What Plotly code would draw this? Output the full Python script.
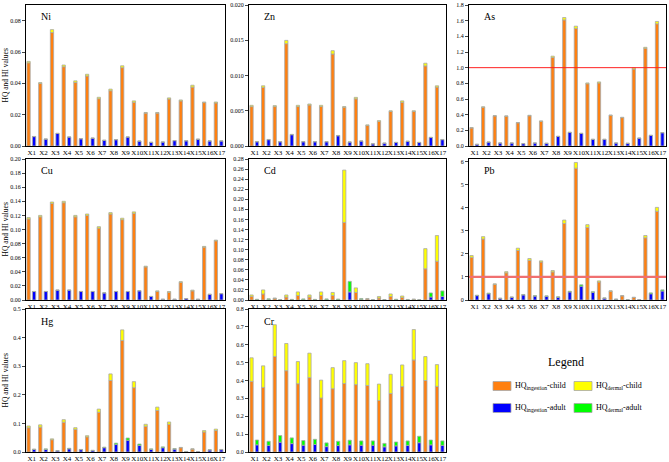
import plotly.graph_objects as go

sites = ["X%d" % i for i in range(1, 18)]

# ---- data: child ingestion (orange), child total (orange+yellow), adult ingestion (blue), adult total (blue+green)
ni_ing_child = [0.0531, 0.0399, 0.0724, 0.0506, 0.0405, 0.0447, 0.0302, 0.0353, 0.0500, 0.0279, 0.0210, 0.0210, 0.0300, 0.0288, 0.0376, 0.0277, 0.0275]
ni_tot_child = [0.0540, 0.0405, 0.0743, 0.0517, 0.0416, 0.0458, 0.0311, 0.0363, 0.0512, 0.0288, 0.0214, 0.0214, 0.0307, 0.0294, 0.0388, 0.0281, 0.0281]
ni_ing_adult = [0.0060, 0.0044, 0.0080, 0.0057, 0.0046, 0.0050, 0.0036, 0.0040, 0.0057, 0.0031, 0.0023, 0.0025, 0.0034, 0.0033, 0.0043, 0.0032, 0.0032]
ni_tot_adult = [0.0061, 0.0045, 0.0081, 0.0058, 0.0047, 0.0051, 0.0037, 0.0041, 0.0058, 0.0032, 0.0024, 0.0026, 0.0035, 0.0034, 0.0044, 0.0033, 0.0033]

zn_ing_child = [0.00559, 0.00831, 0.00559, 0.01451, 0.00559, 0.00582, 0.00560, 0.01305, 0.00550, 0.00670, 0.00290, 0.00350, 0.00490, 0.00620, 0.00490, 0.01136, 0.00836]
zn_tot_child = [0.00577, 0.00854, 0.00573, 0.01498, 0.00577, 0.00596, 0.00577, 0.01352, 0.00559, 0.00690, 0.00300, 0.00360, 0.00500, 0.00640, 0.00500, 0.01174, 0.00854]
zn_ing_adult = [0.00060, 0.00090, 0.00060, 0.00160, 0.00060, 0.00060, 0.00060, 0.00145, 0.00056, 0.00070, 0.00030, 0.00040, 0.00050, 0.00066, 0.00050, 0.00120, 0.00090]
zn_tot_adult = [0.00062, 0.00093, 0.00062, 0.00165, 0.00062, 0.00062, 0.00062, 0.00150, 0.00058, 0.00072, 0.00031, 0.00041, 0.00052, 0.00068, 0.00052, 0.00124, 0.00093]

as_ing_child = [0.230, 0.495, 0.384, 0.380, 0.296, 0.386, 0.315, 1.130, 1.610, 1.500, 0.795, 0.805, 0.390, 0.362, 0.982, 1.248, 1.560]
as_tot_child = [0.236, 0.500, 0.388, 0.384, 0.300, 0.392, 0.320, 1.147, 1.640, 1.530, 0.805, 0.818, 0.396, 0.367, 0.999, 1.260, 1.590]
as_ing_adult = [0.021, 0.050, 0.038, 0.038, 0.030, 0.038, 0.034, 0.122, 0.173, 0.160, 0.084, 0.084, 0.038, 0.034, 0.100, 0.135, 0.169]
as_tot_adult = [0.022, 0.051, 0.039, 0.039, 0.031, 0.039, 0.035, 0.124, 0.176, 0.163, 0.086, 0.086, 0.039, 0.035, 0.102, 0.137, 0.172]

cu_ing_child = [0.115, 0.118, 0.137, 0.138, 0.118, 0.120, 0.102, 0.122, 0.114, 0.123, 0.047, 0.012, 0.011, 0.025, 0.013, 0.075, 0.084]
cu_tot_child = [0.117, 0.120, 0.139, 0.140, 0.120, 0.122, 0.104, 0.124, 0.116, 0.125, 0.048, 0.013, 0.012, 0.026, 0.014, 0.076, 0.085]
cu_ing_adult = [0.012, 0.012, 0.014, 0.014, 0.012, 0.012, 0.010, 0.012, 0.012, 0.013, 0.005, 0.001, 0.001, 0.002, 0.001, 0.008, 0.009]
cu_tot_adult = [0.0122, 0.0122, 0.0142, 0.0142, 0.0122, 0.0122, 0.0102, 0.0122, 0.0122, 0.0132, 0.0051, 0.0011, 0.0011, 0.0021, 0.0011, 0.0081, 0.0091]

cd_ing_child = [0.007, 0.012, 0.003, 0.006, 0.009, 0.006, 0.009, 0.009, 0.154, 0.015, 0.002, 0.004, 0.007, 0.005, 0.001, 0.062, 0.077]
cd_tot_child = [0.010, 0.020, 0.004, 0.010, 0.016, 0.010, 0.016, 0.015, 0.258, 0.024, 0.003, 0.007, 0.012, 0.008, 0.002, 0.102, 0.128]
cd_ing_adult = [0.0005, 0.0008, 0.0002, 0.0004, 0.0006, 0.0004, 0.0006, 0.0006, 0.016, 0.001, 0.0001, 0.0003, 0.0005, 0.0003, 0.0001, 0.006, 0.007]
cd_tot_adult = [0.0015, 0.0025, 0.0006, 0.0013, 0.0022, 0.0013, 0.0022, 0.0020, 0.037, 0.003, 0.0004, 0.0009, 0.0016, 0.0011, 0.0003, 0.014, 0.018]

pb_ing_child = [1.85, 2.65, 0.68, 1.18, 2.15, 1.72, 1.65, 1.22, 3.32, 5.72, 3.15, 0.78, 0.38, 0.18, 0.11, 2.70, 3.85]
pb_tot_child = [1.93, 2.75, 0.70, 1.23, 2.25, 1.80, 1.70, 1.28, 3.47, 5.97, 3.27, 0.83, 0.40, 0.19, 0.12, 2.80, 4.02]
pb_ing_adult = [0.19, 0.27, 0.07, 0.12, 0.22, 0.17, 0.16, 0.12, 0.35, 0.60, 0.33, 0.08, 0.03, 0.01, 0.01, 0.27, 0.39]
pb_tot_adult = [0.21, 0.30, 0.08, 0.13, 0.24, 0.19, 0.18, 0.14, 0.38, 0.66, 0.36, 0.09, 0.04, 0.02, 0.01, 0.31, 0.44]

hg_ing_child = [0.085, 0.087, 0.043, 0.104, 0.079, 0.053, 0.139, 0.250, 0.390, 0.225, 0.090, 0.145, 0.097, 0.015, 0.010, 0.070, 0.075]
hg_tot_child = [0.091, 0.095, 0.046, 0.113, 0.085, 0.057, 0.150, 0.273, 0.427, 0.246, 0.097, 0.157, 0.105, 0.016, 0.011, 0.075, 0.080]
hg_ing_adult = [0.009, 0.009, 0.004, 0.011, 0.008, 0.005, 0.015, 0.026, 0.041, 0.023, 0.009, 0.015, 0.010, 0.001, 0.001, 0.007, 0.008]
hg_tot_adult = [0.010, 0.011, 0.005, 0.013, 0.009, 0.006, 0.017, 0.031, 0.049, 0.028, 0.011, 0.018, 0.012, 0.002, 0.001, 0.008, 0.009]

cr_ing_child = [0.395, 0.361, 0.534, 0.455, 0.382, 0.416, 0.302, 0.354, 0.383, 0.377, 0.372, 0.288, 0.327, 0.366, 0.515, 0.400, 0.367]
cr_tot_child = [0.527, 0.482, 0.712, 0.607, 0.506, 0.553, 0.402, 0.472, 0.511, 0.500, 0.494, 0.380, 0.435, 0.487, 0.685, 0.534, 0.489]
cr_ing_adult = [0.040, 0.037, 0.055, 0.047, 0.038, 0.042, 0.030, 0.036, 0.040, 0.038, 0.038, 0.029, 0.034, 0.037, 0.052, 0.040, 0.037]
cr_tot_adult = [0.067, 0.060, 0.092, 0.079, 0.064, 0.071, 0.051, 0.060, 0.066, 0.062, 0.062, 0.048, 0.056, 0.062, 0.088, 0.067, 0.062]

panels = [
    ("Ni", ni_ing_child, ni_tot_child, ni_ing_adult, ni_tot_adult, [0, 0.09], 0.02, ".2f"),
    ("Zn", zn_ing_child, zn_tot_child, zn_ing_adult, zn_tot_adult, [0, 0.020], 0.005, ".3f"),
    ("As", as_ing_child, as_tot_child, as_ing_adult, as_tot_adult, [0, 1.8], 0.2, ".1f"),
    ("Cu", cu_ing_child, cu_tot_child, cu_ing_adult, cu_tot_adult, [0, 0.20], 0.02, ".2f"),
    ("Cd", cd_ing_child, cd_tot_child, cd_ing_adult, cd_tot_adult, [0, 0.28], 0.02, ".2f"),
    ("Pb", pb_ing_child, pb_tot_child, pb_ing_adult, pb_tot_adult, [0, 6.12], 1, "d"),
    ("Hg", hg_ing_child, hg_tot_child, hg_ing_adult, hg_tot_adult, [0, 0.5], 0.1, ".1f"),
    ("Cr", cr_ing_child, cr_tot_child, cr_ing_adult, cr_tot_adult, [0, 0.8], 0.1, ".1f"),
]

W, H = 669, 462
cols = [(26, 225), (249, 446), (469, 666)]
rows = [(5, 146), (159, 300), (309, 452)]

ORANGE = "#FF8010"
YELLOW = "#FFFF00"
BLUE = "#0000FF"
GREEN = "#00FF00"
EDGE = "#A8A8A8"
FONT = "Liberation Serif"

fig = go.Figure()
layout = dict(
    width=W, height=H, margin=dict(l=0, r=0, t=0, b=0),
    paper_bgcolor="white", plot_bgcolor="white",
    barmode="overlay", showlegend=False,
    font=dict(family=FONT, color="black", size=7),
)
annotations = []
shapes = []

for i, (name, ic, tc, ia, ta, yr, dt, fmt) in enumerate(panels):
    r, c = divmod(i, 3)
    x0, x1 = cols[c]
    y0, y1 = rows[r]
    xs = "" if i == 0 else str(i + 1)
    xa, ya = "x" + xs, "y" + xs
    dc = [t - v for t, v in zip(tc, ic)]
    da = [t - v for t, v in zip(ta, ia)]
    common = dict(xaxis=xa, yaxis=ya, width=0.28, marker_line=dict(color=EDGE, width=0.8))
    fig.add_trace(go.Bar(x=sites, y=ic, offset=-0.42, marker_color=ORANGE, **common))
    fig.add_trace(go.Bar(x=sites, y=dc, base=ic, offset=-0.42, marker_color=YELLOW, **common))
    fig.add_trace(go.Bar(x=sites, y=ia, offset=0.05, marker_color=BLUE, **common))
    fig.add_trace(go.Bar(x=sites, y=da, base=ia, offset=0.05, marker_color=GREEN, **common))

    layout["xaxis" + xs] = dict(
        domain=[x0 / W, x1 / W], anchor=ya, showline=True, mirror=True,
        linecolor="black", linewidth=1, ticks="", showgrid=False,
        tickfont=dict(family=FONT, size=7), range=[-0.5, 16.5], tickangle=0,
        automargin=False,
    )
    layout["yaxis" + xs] = dict(
        domain=[1 - y1 / H, 1 - y0 / H], anchor=xa, showline=True, mirror=True,
        linecolor="black", linewidth=1, ticks="outside", ticklen=3, tickwidth=1,
        showgrid=False, zeroline=False, range=yr, dtick=dt, tick0=0,
        tickformat=fmt, tickfont=dict(family=FONT, size=6), automargin=False,
    )
    annotations.append(dict(
        text=name, xref=xa + " domain", yref=ya + " domain", x=0.065, y=0.915,
        xanchor="left", yanchor="middle", showarrow=False,
        font=dict(family=FONT, size=10, color="black"),
    ))
    if c == 0:
        annotations.append(dict(
            text="HQ and HI values", xref="paper", yref="paper",
            x=5 / W, y=1 - (y0 + y1) / 2 / H, textangle=-90,
            xanchor="center", yanchor="middle", showarrow=False,
            font=dict(family=FONT, size=7.5, color="black"),
        ))
    if name == "As":
        shapes.append(dict(type="line", xref=xa + " domain", yref=ya, x0=0, x1=1, y0=1, y1=1,
                           line=dict(color="#FF2020", width=1)))
    if name == "Pb":
        shapes.append(dict(type="line", xref=xa + " domain", yref=ya, x0=0, x1=1, y0=1, y1=1,
                           line=dict(color="#F07070", width=2.2)))

# ---- manual legend (bottom-right cell)
annotations.append(dict(text="Legend", xref="paper", yref="paper", x=566 / W, y=1 - 362 / H,
                        xanchor="center", yanchor="middle",
                        showarrow=False, font=dict(family=FONT, size=12, color="black")))
legend_items = [
    (ORANGE, "HQ<sub>ingestion</sub>-child", 493, 386),
    (YELLOW, "HQ<sub>dermal</sub>-child", 574, 386),
    (BLUE, "HQ<sub>ingestion</sub>-adult", 493, 408),
    (GREEN, "HQ<sub>dermal</sub>-adult", 574, 408),
]
for col, txt, lx, ly in legend_items:
    shapes.append(dict(type="rect", xref="paper", yref="paper",
                       x0=lx / W, x1=(lx + 18) / W, y0=1 - (ly + 4.5) / H, y1=1 - (ly - 4.5) / H,
                       fillcolor=col, line=dict(color=EDGE, width=0.8)))
    annotations.append(dict(text=txt, xref="paper", yref="paper", x=(lx + 20) / W, y=1 - ly / H,
                            xanchor="left", yanchor="middle", showarrow=False,
                            font=dict(family=FONT, size=8, color="black")))

layout["annotations"] = annotations
layout["shapes"] = shapes
fig.update_layout(**layout)
fig.write_html("out.html", config={"displayModeBar": False},
               post_script="document.body.style.margin='0px';document.body.style.overflow='hidden';")
